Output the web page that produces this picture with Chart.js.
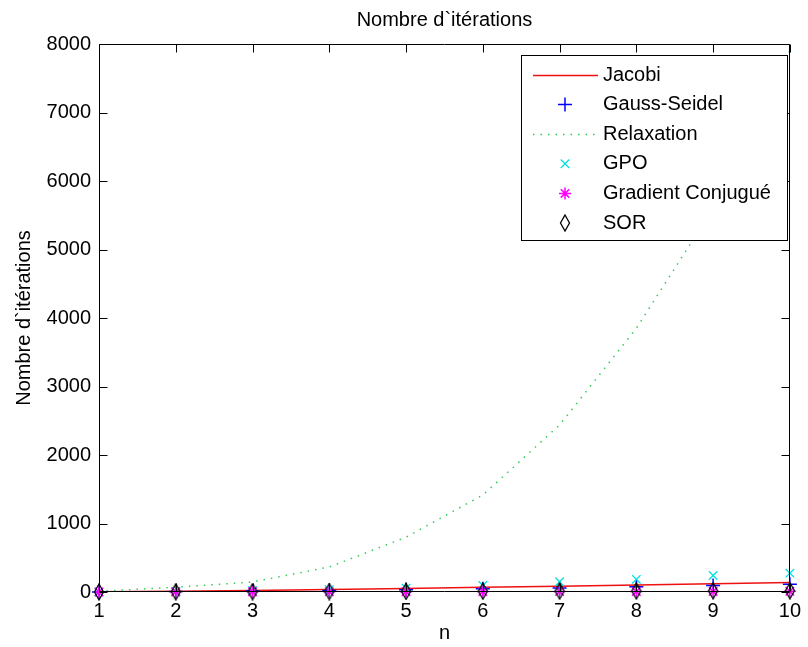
<!DOCTYPE html>
<html>
<head>
<meta charset="utf-8">
<script src="https://cdn.jsdelivr.net/npm/chart.js@4.4.0/dist/chart.umd.min.js"></script>
<style>
html, body { margin: 0; padding: 0; background: #fff; }
#wrap { width: 808px; height: 647px; }
</style>
</head>
<body>
<div id="wrap"><canvas id="iterations-chart" width="808" height="647"></canvas></div>
<script>
// Données
const n = [1, 2, 3, 4, 5, 6, 7, 8, 9, 10];
const jacobi = [2, 10, 22, 36, 52, 68, 85, 102, 120, 138];
const gaussSeidel = [1, 6, 14, 23, 34, 46, 60, 78, 96, 112];
const relaxation = [10, 70, 146, 365, 800, 1416, 2438, 3850, 5600, 7900];
const gpo = [1, 8, 20, 35, 55, 95, 150, 185, 240, 275];
const gradientConjugue = [1, 2, 3, 4, 5, 6, 7, 8, 9, 10];
const sor = [1, 3, 5, 7, 9, 11, 13, 15, 17, 19];
const yTicks = [0, 1000, 2000, 3000, 4000, 5000, 6000, 7000, 8000];
const titre = 'Nombre d`itérations';

const FONT = '"Liberation Sans", Arial, Helvetica, sans-serif';
const FSIZE = 20;
Chart.defaults.font.family = FONT;
Chart.defaults.font.size = FSIZE;
Chart.defaults.color = '#000';

// Losange étiré façon MATLAB
function makeDiamond() {
    const c = document.createElement('canvas');
    c.width = 12; c.height = 18;
    const g = c.getContext('2d');
    g.strokeStyle = '#000';
    g.lineWidth = 1.3;
    g.beginPath();
    g.moveTo(6, 1); g.lineTo(10.5, 9); g.lineTo(6, 17); g.lineTo(1.5, 9);
    g.closePath();
    g.stroke();
    return c;
}
const diamond = makeDiamond();

const pts = arr => n.map((x, i) => ({ x: x, y: arr[i] }));

// Cadre, graduations intérieures et titre centré sur les axes
const boxPlugin = {
    id: 'matlabBox',
    afterDatasetsDraw(chart) {
        const { ctx, chartArea: a, scales: { x, y } } = chart;
        const L = Math.round(a.left) + 0.5, R = Math.round(a.right) - 0.5;
        const T = Math.round(a.top) + 0.5, B = Math.round(a.bottom) - 0.5;
        ctx.save();
        ctx.strokeStyle = '#000';
        ctx.lineWidth = 1;
        ctx.beginPath();
        ctx.rect(L, T, R - L, B - T);
        x.ticks.forEach(t => {
            const px = Math.round(x.getPixelForValue(t.value)) + 0.5;
            ctx.moveTo(px, B); ctx.lineTo(px, B - 8);
            ctx.moveTo(px, T); ctx.lineTo(px, T + 8);
        });
        y.ticks.forEach(t => {
            const py = Math.round(y.getPixelForValue(t.value)) + 0.5;
            ctx.moveTo(L, py); ctx.lineTo(L + 8, py);
            ctx.moveTo(R, py); ctx.lineTo(R - 8, py);
        });
        ctx.stroke();

        ctx.fillStyle = '#000';
        ctx.font = FSIZE + 'px ' + FONT;
        ctx.textAlign = 'center';
        ctx.textBaseline = 'middle';
        ctx.fillText(titre, (a.left + a.right) / 2, 20);
        ctx.restore();
    }
};

// Légende encadrée en haut à droite
const legendPlugin = {
    id: 'matlabLegend',
    afterDraw(chart) {
        const { ctx } = chart;
        const bx = 521.5, by = 55.5, bw = 266, bh = 185;
        ctx.save();
        ctx.fillStyle = '#fff';
        ctx.fillRect(bx, by, bw, bh);
        ctx.strokeStyle = '#000';
        ctx.lineWidth = 1;
        ctx.strokeRect(bx, by, bw, bh);
        chart.data.datasets.forEach((ds, i) => {
            const yy = 75 + i * 29.6;
            if (ds.showLine) {
                ctx.save();
                ctx.strokeStyle = ds.borderColor;
                ctx.lineWidth = ds.borderWidth;
                ctx.setLineDash(ds.borderDash || []);
                ctx.beginPath();
                ctx.moveTo(533, Math.round(yy) + 0.5);
                ctx.lineTo(598, Math.round(yy) + 0.5);
                ctx.stroke();
                ctx.restore();
            } else {
                ctx.strokeStyle = ds.pointBorderColor;
                ctx.fillStyle = 'rgba(0,0,0,0)';
                ctx.lineWidth = ds.pointBorderWidth;
                Chart.helpers.drawPoint(ctx, {
                    pointStyle: ds.pointStyle,
                    radius: ds.pointRadius,
                    borderWidth: ds.pointBorderWidth,
                    rotation: 0
                }, 565, yy);
            }
            ctx.fillStyle = '#000';
            ctx.font = FSIZE + 'px ' + FONT;
            ctx.textBaseline = 'middle';
            ctx.textAlign = 'left';
            ctx.fillText(ds.label, 603, yy);
        });
        ctx.restore();
    }
};

function markers(label, data, style, radius, color, width, order) {
    return {
        label: label,
        data: pts(data),
        showLine: false,
        pointStyle: style,
        pointRadius: radius,
        pointBorderWidth: width,
        pointBorderColor: color,
        pointBackgroundColor: 'rgba(0,0,0,0)',
        borderColor: color,
        clip: false,
        order: order
    };
}

new Chart(document.getElementById('iterations-chart'), {
    type: 'line',
    data: {
        datasets: [
            {
                label: 'Jacobi',
                data: pts(jacobi),
                showLine: true,
                borderColor: '#ee1111',
                borderWidth: 1.5,
                pointRadius: 0,
                tension: 0,
                order: 5
            },
            markers('Gauss-Seidel', gaussSeidel, 'cross', 7, '#0000ff', 1.5, 4),
            {
                label: 'Relaxation',
                data: pts(relaxation),
                showLine: true,
                borderColor: '#33cc55',
                borderWidth: 1.5,
                borderDash: [1.5, 6],
                pointRadius: 0,
                tension: 0,
                order: 3
            },
            markers('GPO', gpo, 'crossRot', 6, '#00e0e0', 1.3, 2),
            markers('Gradient Conjugué', gradientConjugue, 'star', 6, '#ff00ff', 1.5, 1),
            markers('SOR', sor, diamond, 8, '#000000', 1.3, 0)
        ]
    },
    options: {
        responsive: false,
        animation: false,
        layout: { padding: { left: 0, right: 12.5, top: 44, bottom: 0 } },
        plugins: {
            legend: { display: false },
            tooltip: { enabled: false },
            title: { display: false }
        },
        scales: {
            x: {
                type: 'linear',
                min: 1,
                max: 10,
                grid: { display: false, drawTicks: false },
                border: { display: false },
                ticks: { stepSize: 1, padding: 7, color: '#000', font: { size: FSIZE } },
                title: { display: true, text: 'n', color: '#000', font: { size: FSIZE }, padding: { top: 0, bottom: 2 } },
                afterFit(scale) { scale.height = 55; }
            },
            y: {
                type: 'linear',
                min: 0,
                max: 8000,
                grid: { display: false, drawTicks: false },
                border: { display: false },
                afterBuildTicks(scale) { scale.ticks = yTicks.map(v => ({ value: v })); },
                ticks: { padding: 8, color: '#000', font: { size: FSIZE }, callback: v => String(v) },
                title: { display: true, text: titre, color: '#000', font: { size: FSIZE }, padding: { top: 12, bottom: 0 } },
                afterFit(scale) { scale.width = 99; }
            }
        }
    },
    plugins: [boxPlugin, legendPlugin]
});
</script>
</body>
</html>
